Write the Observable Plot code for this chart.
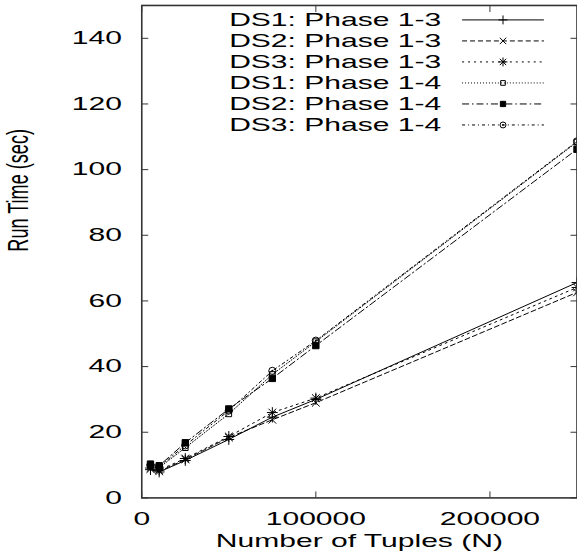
<!DOCTYPE html>
<html><head><meta charset="utf-8">
<script src="https://cdn.jsdelivr.net/npm/d3@7"></script>
<script src="https://cdn.jsdelivr.net/npm/@observablehq/plot@0.6"></script>
<style>html,body{margin:0;padding:0;background:#fff;overflow:hidden;width:577px;height:560px}</style>
</head><body><div id="chart"></div>
<script>
// ---- data ----
const tuples = [5000, 10000, 25000, 50000, 75000, 100000, 250000];
const ds1Phase13 = [8.6, 7.9, 11.4, 17.8, 24.6, 30.0, 65.6];
const ds2Phase13 = [8.8, 8.1, 11.7, 18.4, 23.8, 29.0, 62.6];
const ds3Phase13 = [9.1, 8.5, 12.0, 18.7, 26.0, 30.4, 64.1];
const ds1Phase14 = [9.6, 9.2, 15.3, 25.6, 37.6, 47.6, 108.4];
const ds2Phase14 = [10.3, 9.8, 16.8, 27.1, 36.4, 46.4, 106.2];
const ds3Phase14 = [9.9, 9.5, 16.0, 26.6, 38.7, 47.9, 108.6];
const seriesNames = ["DS1: Phase 1-3", "DS2: Phase 1-3", "DS3: Phase 1-3",
                     "DS1: Phase 1-4", "DS2: Phase 1-4", "DS3: Phase 1-4"];
const yTicks = [0, 20, 40, 60, 80, 100, 120, 140];
const xTicks = [0, 100000, 200000];
const xTitle = "Number of Tuples (N)";
const yTitle = "Run Time (sec)";

// ---- styles / layout ----
const S = 1.66;       // horizontal stretch of text (as in reference)
const FONT = 18.2;
const dashes = [null, "5,3", "2,4", "1,2", "7,3,1.5,3", "3,3,1,3"];
const symbolSets = [["plus"], ["times"], ["plus", "times"], ["square2"], ["square"], ["circle"]];
const legendTextX = 172000, legendLineX1 = 184000, legendLineX2 = 231000, legendMarkX = 207500;
const legendTopY = 145.6, legendStepY = 6.4;
const R = 3.6;

const seriesValues = [ds1Phase13, ds2Phase13, ds3Phase13, ds1Phase14, ds2Phase14, ds3Phase14];
const rows = seriesNames.flatMap((name, i) =>
  tuples.map((n, j) => ({series: name, idx: i, n, t: seriesValues[i][j]})));
const legendRows = seriesNames.map((name, i) => ({name, i, y: legendTopY - i * legendStepY}));

const marks = [];
seriesNames.forEach((name, i) => {
  const d = rows.filter(r => r.idx === i);
  marks.push(Plot.line(d, {x: "n", y: "t", stroke: "#000", strokeWidth: 1,
    strokeDasharray: dashes[i] || undefined}));
});
seriesNames.forEach((name, i) => {
  const d = rows.filter(r => r.idx === i);
  for (const sym of symbolSets[i]) {
    marks.push(Plot.dot(d, {x: "n", y: "t", symbol: () => sym, r: R, stroke: "#000",
      strokeWidth: 1, fill: sym === "square" ? "#000" : "none"}));
  }
  if (symbolSets[i][0] === "circle") marks.push(Plot.dot(d, {x: "n", y: "t", r: 1, fill: "#000"}));
});

// legend
marks.push(Plot.text(legendRows, {x: () => legendTextX, y: "y", text: "name", textAnchor: "end",
  fontSize: FONT, fill: "#000"}));
legendRows.forEach(r => {
  marks.push(Plot.link([r], {x1: () => legendLineX1, x2: () => legendLineX2, y1: "y", y2: "y",
    stroke: "#000", strokeWidth: 1, strokeDasharray: dashes[r.i] || undefined}));
  for (const sym of symbolSets[r.i]) {
    marks.push(Plot.dot([r], {x: () => legendMarkX, y: "y", symbol: () => sym, r: R - 0.6, stroke: "#000",
      strokeWidth: 1, fill: sym === "square" ? "#000" : "none"}));
  }
  if (symbolSets[r.i][0] === "circle") marks.push(Plot.dot([r], {x: () => legendMarkX, y: "y", r: 0.9, fill: "#000"}));
});

// axes (gnuplot style: inward ticks on all sides)
marks.push(Plot.axisY(yTicks, {anchor: "left", tickSize: 0, tickPadding: 20, fontSize: FONT, label: null, fill: "#000"}));
marks.push(Plot.axisY(yTicks, {anchor: "left", tickSize: -7, tickFormat: () => "", label: null, stroke: "#333"}));
marks.push(Plot.axisY(yTicks, {anchor: "right", tickSize: -7, tickFormat: () => "", label: null, stroke: "#333"}));
marks.push(Plot.axisX(xTicks, {anchor: "bottom", tickSize: 0, tickPadding: 14, fontSize: FONT, label: null,
  tickFormat: d => String(d), fill: "#000"}));
marks.push(Plot.axisX(xTicks, {anchor: "bottom", tickSize: -6, tickFormat: () => "", label: null, stroke: "#333"}));
marks.push(Plot.axisX(xTicks, {anchor: "top", tickSize: -6, tickFormat: () => "", label: null, stroke: "#333"}));
marks.push(Plot.frame({stroke: "#333", strokeWidth: 1.6}));
marks.push(Plot.text([xTitle], {frameAnchor: "bottom", dy: 36.5, lineAnchor: "top", fontSize: FONT, fill: "#000"}));
marks.push(Plot.text([yTitle], {frameAnchor: "left", dx: -124, rotate: -90, fontSize: FONT, fill: "#000"}));

const chart = Plot.plot({
  width: 580, height: 560,
  marginLeft: 142, marginRight: 0.5, marginTop: 5, marginBottom: 60,
  x: {domain: [0, 250000]},
  y: {domain: [0, 150]},
  style: {fontFamily: "'Liberation Sans', Arial, Helvetica, sans-serif", fontSize: FONT + "px",
          background: "#fff", color: "#000", overflow: "visible"},
  marks
});

// stretch text horizontally around its anchor, as in the reference
chart.querySelectorAll("text").forEach(t => {
  const tr = t.getAttribute("transform") || "";
  if (tr.includes("rotate(")) t.setAttribute("transform", tr.replace("rotate(", `scale(${S},1) rotate(`));
  else t.setAttribute("transform", (tr + ` scale(${S},1)`).trim());
});
document.getElementById("chart").appendChild(chart);
</script>
</body></html>
